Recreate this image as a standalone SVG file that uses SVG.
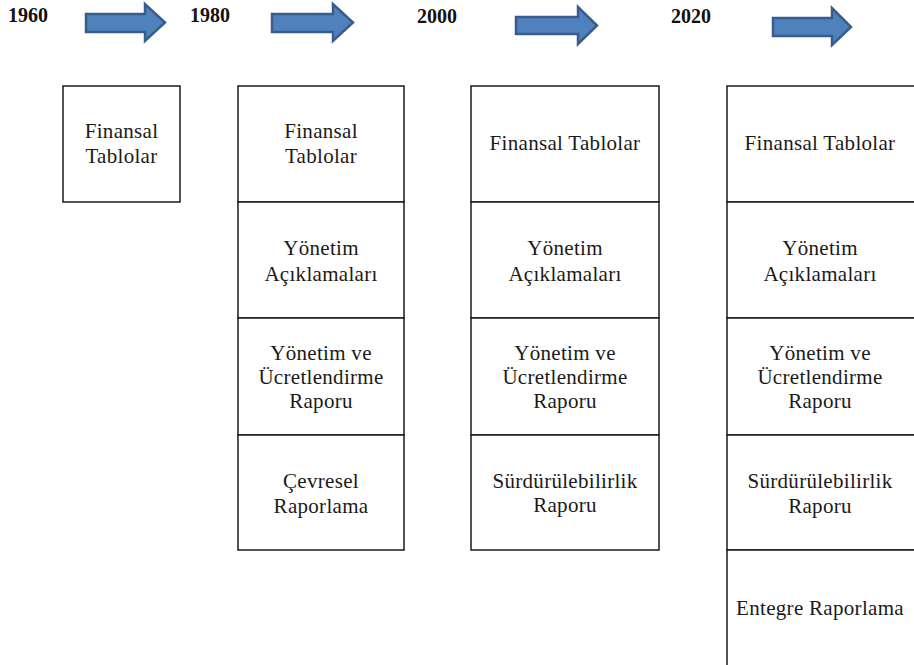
<svg xmlns="http://www.w3.org/2000/svg" width="914" height="665" viewBox="0 0 914 665">
<style>
.bg{fill:#ffffff}
.cell{fill:#ffffff;stroke:#1a1a1a;stroke-width:1.5}
.t{font-family:"Liberation Serif","Times New Roman",serif;font-size:21px;letter-spacing:0.3px;fill:#1a1a1a;text-anchor:middle}
.yr{font-family:"Liberation Serif","Times New Roman",serif;font-size:20px;font-weight:bold;fill:#111}
.arr{fill:#4f81bd;stroke:#385d8a;stroke-width:2.5;stroke-linejoin:miter}
</style>
<rect class="bg" x="0" y="0" width="914" height="665"/>
<g id="years">
<text class="yr" x="8" y="22">1960</text>
<text class="yr" x="190" y="22">1980</text>
<text class="yr" x="417" y="23">2000</text>
<text class="yr" x="671" y="23">2020</text>
</g>
<g id="connectors">
<path class="arr" d="M86,14 H145 V4 L165,22.5 L145,41 V32 H86 Z"/>
<path class="arr" d="M272,14 H333 V4 L353,22.5 L333,41 V32 H272 Z"/>
<path class="arr" d="M516,17 H578 V7 L597,25.5 L578,44 V34 H516 Z"/>
<path class="arr" d="M773,18 H832 V8 L851,27 L832,45 V36 H773 Z"/>
</g>
<g id="c1960-fin">
<rect class="cell" x="63" y="86" width="117" height="116"/>
<text class="t" x="121.5" y="138">Finansal</text>
<text class="t" x="121.5" y="163">Tablolar</text>
</g>
<g id="c1980-fin">
<rect class="cell" x="238" y="86" width="166" height="116"/>
<text class="t" x="321" y="138">Finansal</text>
<text class="t" x="321" y="163">Tablolar</text>
</g>
<g id="c1980-yon">
<rect class="cell" x="238" y="202" width="166" height="116"/>
<text class="t" x="321" y="255">Yönetim</text>
<text class="t" x="321" y="281">Açıklamaları</text>
</g>
<g id="c1980-ucr">
<rect class="cell" x="238" y="318" width="166" height="117"/>
<text class="t" x="321" y="360">Yönetim ve</text>
<text class="t" x="321" y="384">Ücretlendirme</text>
<text class="t" x="321" y="408">Raporu</text>
</g>
<g id="c1980-cev">
<rect class="cell" x="238" y="435" width="166" height="115"/>
<text class="t" x="321" y="488">Çevresel</text>
<text class="t" x="321" y="513">Raporlama</text>
</g>
<g id="c2000-fin">
<rect class="cell" x="471" y="86" width="188" height="116"/>
<text class="t" x="565" y="150">Finansal Tablolar</text>
</g>
<g id="c2000-yon">
<rect class="cell" x="471" y="202" width="188" height="116"/>
<text class="t" x="565" y="255">Yönetim</text>
<text class="t" x="565" y="281">Açıklamaları</text>
</g>
<g id="c2000-ucr">
<rect class="cell" x="471" y="318" width="188" height="117"/>
<text class="t" x="565" y="360">Yönetim ve</text>
<text class="t" x="565" y="384">Ücretlendirme</text>
<text class="t" x="565" y="408">Raporu</text>
</g>
<g id="c2000-sur">
<rect class="cell" x="471" y="435" width="188" height="115"/>
<text class="t" x="565" y="488">Sürdürülebilirlik</text>
<text class="t" x="565" y="512">Raporu</text>
</g>
<g id="c2020-fin">
<rect class="cell" x="727" y="86" width="188" height="116"/>
<text class="t" x="820" y="150">Finansal Tablolar</text>
</g>
<g id="c2020-yon">
<rect class="cell" x="727" y="202" width="188" height="116"/>
<text class="t" x="820" y="255">Yönetim</text>
<text class="t" x="820" y="281">Açıklamaları</text>
</g>
<g id="c2020-ucr">
<rect class="cell" x="727" y="318" width="188" height="117"/>
<text class="t" x="820" y="360">Yönetim ve</text>
<text class="t" x="820" y="384">Ücretlendirme</text>
<text class="t" x="820" y="408">Raporu</text>
</g>
<g id="c2020-sur">
<rect class="cell" x="727" y="435" width="188" height="115"/>
<text class="t" x="820" y="488">Sürdürülebilirlik</text>
<text class="t" x="820" y="513">Raporu</text>
</g>
<g id="c2020-ent">
<rect class="cell" x="727" y="550" width="188" height="130"/>
<text class="t" x="820" y="615">Entegre Raporlama</text>
</g>
</svg>
